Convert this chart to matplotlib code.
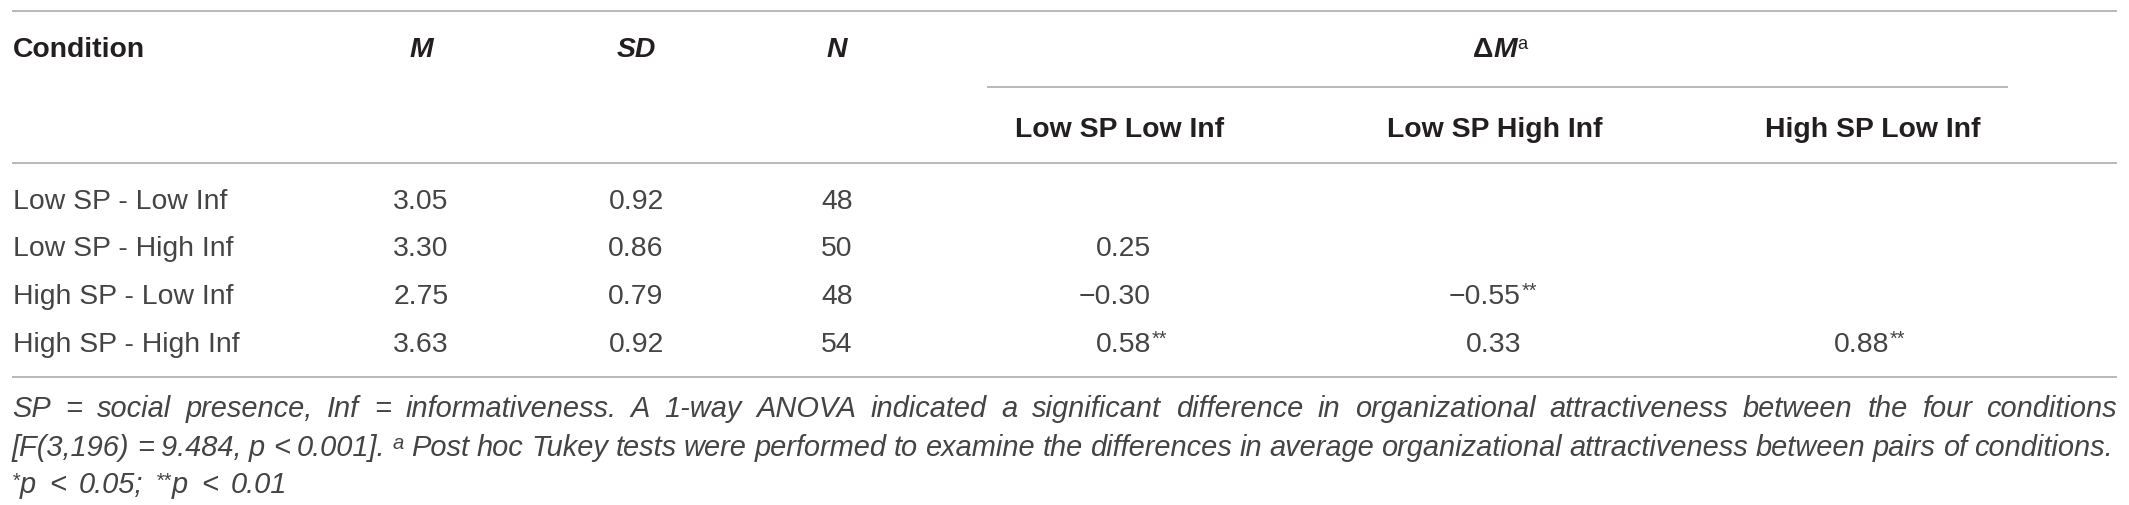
import matplotlib
matplotlib.use("Agg")
import matplotlib.pyplot as plt

plt.rcParams['font.family'] = ['Liberation Sans', 'DejaVu Sans']

# table data
conditions = ["Low SP - Low Inf", "Low SP - High Inf", "High SP - Low Inf", "High SP - High Inf"]
means = [3.05, 3.30, 2.75, 3.63]
sds = [0.92, 0.86, 0.79, 0.92]
ns = [48, 50, 48, 54]
pair_headers = ["Low SP Low Inf", "Low SP High Inf", "High SP Low Inf"]
# mean differences (row condition minus column condition), None = empty cell
diffs = [
    [None, None, None],
    [0.25, None, None],
    [-0.30, -0.55, None],
    [0.58, 0.33, 0.88],
]
stars = [
    ["", "", ""],
    ["", "", ""],
    ["", "**", ""],
    ["**", "", "**"],
]
note_line1 = ("SP = social presence, Inf = informativeness. A 1-way ANOVA indicated a significant "
              "difference in organizational attractiveness between the four conditions")
note_line2a = "[F(3,196) = 9.484, p < 0.001]."
note_line2b = ("Post hoc Tukey tests were performed to examine the differences in average "
               "organizational attractiveness between pairs of conditions.")
note_line3 = [("*", "p"), "<", "0.05;", ("**", "p"), "<", "0.01"]

W, H = 2129, 505
fig = plt.figure(figsize=(W / 100, H / 100), dpi=100)
ax = fig.add_axes([0, 0, 1, 1])
ax.set_xlim(0, W)
ax.set_ylim(H, 0)
ax.axis('off')
renderer = fig.canvas.get_renderer()

INK = '#231f20'
BODY = '#444444'
RULE = '#b3b3b3'
FS = 20.4
FS_NOTE = 18.0
SUP = 0.7

X0, X1 = 12, 2117
col_x = [421, 636, 837]
pair_x = [1120, 1495, 1873]     # header centres
pair_right = [1151, 1521, 1889]  # right edge of the numbers

header_base = 57
sub_base = 137
row_base = [209, 256, 304, 352]
note_base = [417, 456, 493]


def width_of(t):
    return t.get_window_extent(renderer).width


def note_text(x, y, s, size):
    return ax.text(x, y, s, fontsize=size, fontstyle='italic', color=BODY,
                   va='baseline', ha='left')


def justify(words, y, x0, x1):
    # each word is a list of (text, size, rise) pieces drawn back to back
    drawn = []
    for word in words:
        arts = [note_text(0, y - rise, s, size) for s, size, rise in word]
        drawn.append((arts, [width_of(a) for a in arts]))
    total = sum(sum(ws) for _, ws in drawn)
    gap = (x1 - x0 - total) / (len(drawn) - 1)
    x = x0
    for arts, ws in drawn:
        for a, w in zip(arts, ws):
            a.set_x(x)
            x += w
        x += gap


# rules
ax.hlines([11, 163, 377], X0, X1, color=RULE, lw=1.3)
ax.hlines(87, 987, 2008, color=RULE, lw=1.3)

# header
ax.text(13, header_base, "Condition", fontsize=FS, fontweight='bold', color=INK, va='baseline')
for x, lab in zip(col_x, ["M", "SD", "N"]):
    ax.text(x, header_base, lab, fontsize=FS, fontweight='bold', fontstyle='italic',
            color=INK, va='baseline', ha='center')
parts = [ax.text(0, header_base, "\u0394", fontsize=FS, fontweight='bold', color=INK, va='baseline'),
         ax.text(0, header_base, "M", fontsize=FS, fontweight='bold', fontstyle='italic',
                 color=INK, va='baseline'),
         ax.text(0, header_base - 8, "a", fontsize=FS * 0.65, color=INK, va='baseline')]
pw = [width_of(p) for p in parts]
x = 1500 - sum(pw) / 2
for p, w in zip(parts, pw):
    p.set_x(x)
    x += w
for x, lab in zip(pair_x, pair_headers):
    ax.text(x, sub_base, lab, fontsize=FS, fontweight='bold', color=INK,
            va='baseline', ha='center')

# body rows
for i, cond in enumerate(conditions):
    y = row_base[i]
    ax.text(13, y, cond, fontsize=FS, color=BODY, va='baseline')
    ax.text(col_x[0], y, f"{means[i]:.2f}", fontsize=FS, color=BODY, va='baseline', ha='center')
    ax.text(col_x[1], y, f"{sds[i]:.2f}", fontsize=FS, color=BODY, va='baseline', ha='center')
    ax.text(col_x[2], y, f"{ns[i]}", fontsize=FS, color=BODY, va='baseline', ha='center')
    for j in range(3):
        v = diffs[i][j]
        if v is None:
            continue
        ax.text(pair_right[j], y, f"{v:.2f}".replace("-", "\u2212"), fontsize=FS,
                color=BODY, va='baseline', ha='right')
        if stars[i][j]:
            ax.text(pair_right[j] + 1, y - 7, stars[i][j], fontsize=FS * SUP,
                    color=BODY, va='baseline', ha='left')

# footnote: fit the font so the second line fills the width
probe = note_text(0, 0, note_line2a + "  a " + note_line2b, FS_NOTE)
fs_note = 1.02 * FS_NOTE * (2100 - X0) / width_of(probe)
probe.remove()

justify([[(w, fs_note, 0)] for w in note_line1.split(" ")], note_base[0], X0, X1)
words2 = [[(w, fs_note, 0)] for w in note_line2a.split(" ")]
words2.append([("a", fs_note * SUP, 7)])
words2 += [[(w, fs_note, 0)] for w in note_line2b.split(" ")]
justify(words2, note_base[1], X0, 2113)

words3 = []
for w in note_line3:
    if isinstance(w, tuple):
        words3.append([(w[0], fs_note * SUP, 6), (w[1], fs_note, 0)])
    else:
        words3.append([(w, fs_note, 0)])
justify(words3, note_base[2], X0, 287)

fig.savefig("out.png", dpi=100)
